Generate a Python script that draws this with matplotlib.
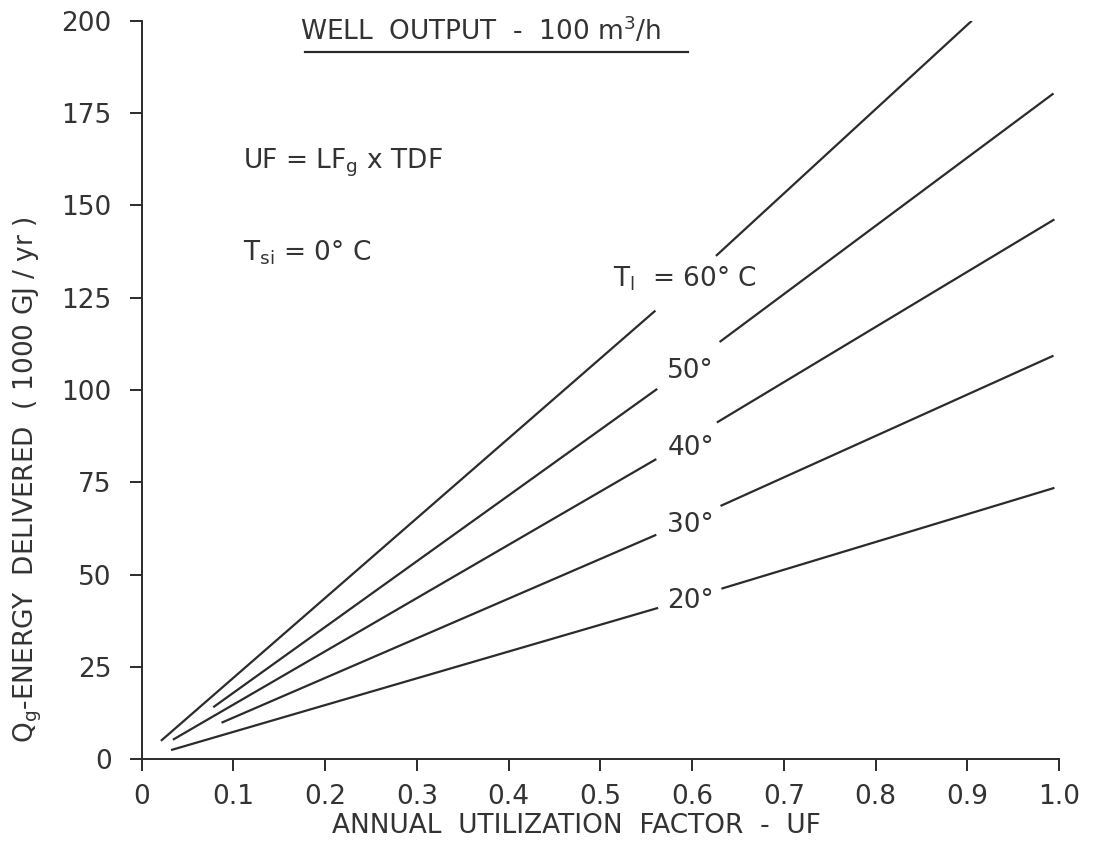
import numpy as np
import matplotlib
matplotlib.use("Agg")
import matplotlib.pyplot as plt
from matplotlib.lines import Line2D

plt.rcParams['font.family'] = ['DejaVu Sans']
plt.rcParams['mathtext.default'] = 'regular'

# ---- data ----
x_ticks = [0, 0.1, 0.2, 0.3, 0.4, 0.5, 0.6, 0.7, 0.8, 0.9, 1.0]
x_tick_labels = ["0", "0.1", "0.2", "0.3", "0.4", "0.5", "0.6", "0.7", "0.8", "0.9", "1.0"]
y_ticks = [0, 25, 50, 75, 100, 125, 150, 175, 200]
y_tick_labels = ["0", "25", "50", "75", "100", "125", "150", "175", "200"]

# each curve: start, end of lower part, start of upper part (after label gap), end
uf_60 = [0.021, 0.560, np.nan, 0.626, 0.905]
q_60 = [5.0, 121.5, np.nan, 136.3, 200.0]
uf_50 = [0.078, 0.562, np.nan, 0.630, 0.994]
q_50 = [14.1, 100.3, np.nan, 113.0, 180.3]
uf_40 = [0.034, 0.561, np.nan, 0.627, 0.995]
q_40 = [5.3, 81.3, np.nan, 91.2, 146.2]
uf_30 = [0.087, 0.561, np.nan, 0.631, 0.994]
q_30 = [9.9, 60.8, np.nan, 68.6, 109.3]
uf_20 = [0.032, 0.563, np.nan, 0.632, 0.995]
q_20 = [2.5, 41.0, np.nan, 46.2, 73.5]

curve_labels = ["$T_{l}$  = 60° C", "50°", "40°", "30°", "20°"]
label_pos_uf = [0.514, 0.573, 0.573, 0.573, 0.573]
label_pos_q = [128.0, 103.2, 82.4, 61.6, 40.9]

ink = "#2b2b2b"
txt = "#333333"
fs = 19

fig = plt.figure(figsize=(11.16, 8.42), dpi=100)
ax = fig.add_axes([141.7 / 1116, 1 - 759.3 / 842, (1059 - 141.7) / 1116, (759.3 - 20.7) / 842])

for xs, ys in [(uf_60, q_60), (uf_50, q_50), (uf_40, q_40), (uf_30, q_30), (uf_20, q_20)]:
    ax.plot(xs, ys, color=ink, lw=1.6, solid_capstyle='butt')

for lab, xu, yq in zip(curve_labels, label_pos_uf, label_pos_q):
    ax.text(xu, yq, lab, fontsize=fs, color=txt, ha='left', va='baseline')

ax.text(0.1108, 160.0, "UF = LF$_g$ x TDF", fontsize=fs, color=txt, ha='left', va='baseline')
ax.text(0.1108, 135.2, "T$_{si}$ = 0° C", fontsize=fs, color=txt, ha='left', va='baseline')

ax.set_xlim(0, 1.0)
ax.set_ylim(0, 200)
ax.set_xticks(x_ticks)
ax.set_xticklabels(x_tick_labels)
ax.set_yticks(y_ticks)
ax.set_yticklabels(y_tick_labels)

for s in ['top', 'right']:
    ax.spines[s].set_visible(False)
for s in ['left', 'bottom']:
    ax.spines[s].set_linewidth(1.4)
    ax.spines[s].set_color(ink)

ax.tick_params(axis='both', direction='out', length=8.5, width=1.4, colors=ink,
               labelsize=fs, labelcolor=txt)
ax.tick_params(axis='y', pad=13)
ax.tick_params(axis='x', pad=9)

# title with underline
fig.text(300 / 1116, 1 - 40 / 842, "WELL  OUTPUT  -  100 m$^3$/h", fontsize=fs,
         color=txt, ha='left', va='baseline')
fig.add_artist(Line2D([305 / 1116, 688 / 1116], [1 - 51.7 / 842, 1 - 51.7 / 842],
                      transform=fig.transFigure, color=ink, lw=1.6))

fig.text(576 / 1116, 1 - 833 / 842, "ANNUAL  UTILIZATION  FACTOR  -  UF", fontsize=fs,
         color=txt, ha='center', va='baseline')
fig.text(28 / 1116, 1 - 480 / 842, "Q$_g$-ENERGY  DELIVERED  ( 1000 GJ / yr )", fontsize=fs,
         color=txt, ha='center', va='center', rotation=90)

fig.savefig("out.png", dpi=100)
